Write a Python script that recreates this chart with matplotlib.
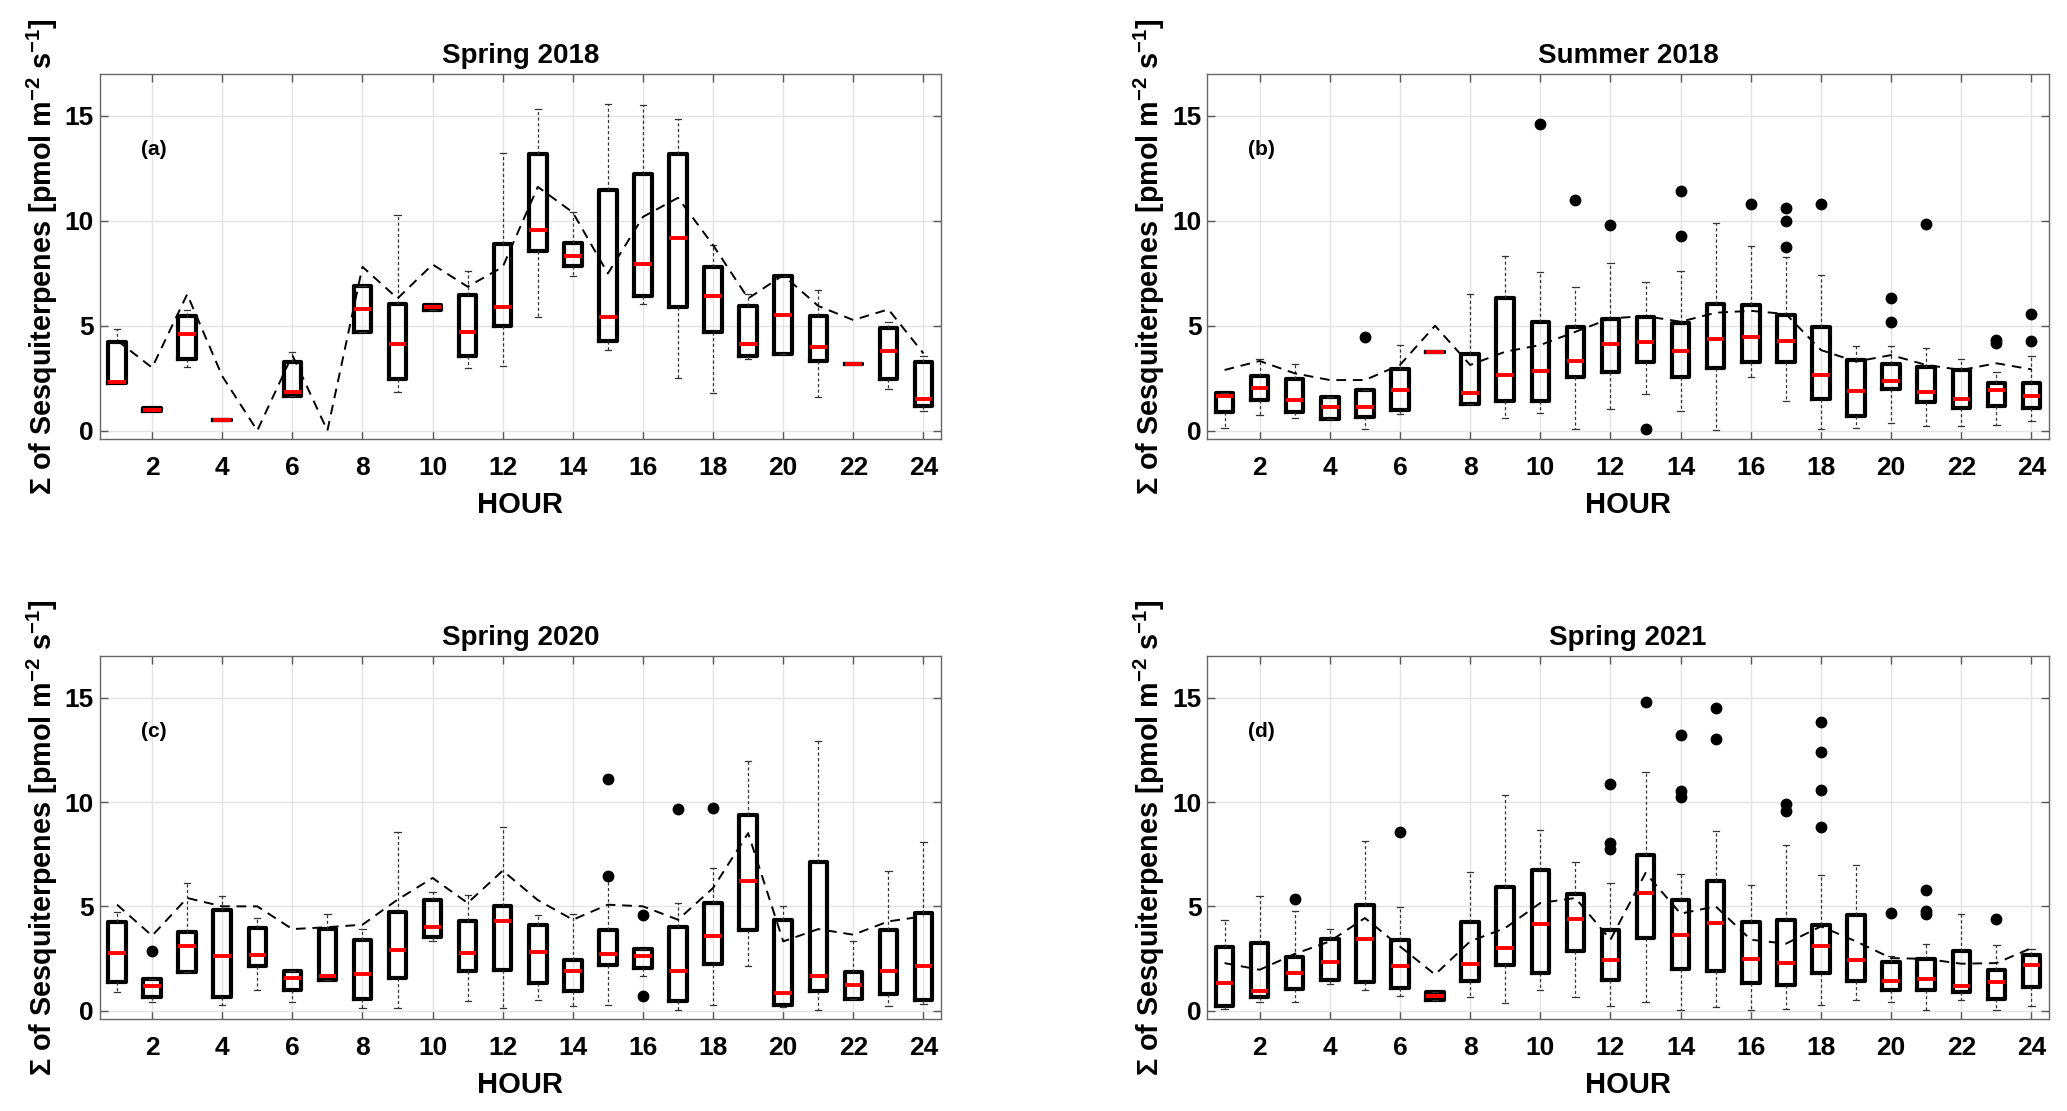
import numpy as np
import matplotlib
matplotlib.use("Agg")
import matplotlib.pyplot as plt

plt.rcParams['font.family'] = ['Liberation Sans', 'DejaVu Sans']
plt.rcParams['font.weight'] = 'bold'
plt.rcParams['mathtext.fontset'] = 'custom'
plt.rcParams['mathtext.rm'] = 'Liberation Sans:bold'
plt.rcParams['mathtext.bf'] = 'Liberation Sans:bold'
plt.rcParams['mathtext.default'] = 'bf'

nan = np.nan
hours = np.arange(1, 25)

# ---- Spring 2018 ----
med_a = [2.33, 0.98, 4.59, 0.51, nan, 1.86, nan, 5.79, 4.14, 5.87, 4.70, 5.89, 9.54, 8.32, 5.40, 7.94, 9.19, 6.44, 4.13, 5.49, 3.97, 3.16, 3.78, 1.49]
q1_a = [2.29, 0.93, 3.40, 0.51, nan, 1.65, nan, 4.68, 2.44, 5.75, 3.56, 4.98, 8.56, 7.84, 4.27, 6.44, 5.87, 4.71, 3.57, 3.63, 3.32, 3.16, 2.44, 1.19]
q3_a = [4.21, 1.06, 5.46, 0.51, nan, 3.29, nan, 6.89, 6.05, 5.97, 6.46, 8.89, 13.2, 8.92, 11.49, 12.24, 13.2, 7.81, 5.94, 7.37, 5.48, 3.16, 4.90, 3.29]
lo_a = [2.29, 0.93, 3.05, 0.51, nan, 1.65, nan, 4.68, 1.83, 5.75, 2.97, 3.08, 5.43, 7.37, 3.83, 6.02, 2.52, 1.78, 3.41, 3.63, 1.59, 3.16, 1.97, 0.95]
hi_a = [4.83, 1.06, 5.75, 0.51, nan, 3.76, nan, 6.89, 10.3, 5.97, 7.62, 13.25, 15.33, 10.4, 15.56, 15.52, 14.86, 8.87, 6.51, 7.37, 6.70, 3.16, 5.19, 3.56]
mean_a = [4.3, 3.0, 6.5, 2.6, 0.0, 3.6, 0.0, 7.81, 6.3, 7.92, 6.86, 7.8, 11.62, 10.4, 7.49, 10.19, 11.1, 8.84, 6.3, 7.41, 5.94, 5.27, 5.78, 3.68]
fl_a = {}

# ---- Summer 2018 ----
med_b = [1.67, 2.03, 1.44, 1.11, 1.11, 1.92, 3.73, 1.78, 2.67, 2.83, 3.33, 4.11, 4.22, 3.79, 4.35, 4.44, 4.25, 2.65, 1.90, 2.37, 1.83, 1.49, 1.94, 1.65]
q1_b = [0.90, 1.46, 0.90, 0.57, 0.67, 0.98, 3.73, 1.27, 1.43, 1.43, 2.57, 2.81, 3.29, 2.56, 3.0, 3.29, 3.29, 1.49, 0.70, 1.98, 1.37, 1.10, 1.19, 1.10]
q3_b = [1.78, 2.60, 2.46, 1.62, 1.94, 2.92, 3.73, 3.65, 6.32, 5.19, 4.95, 5.32, 5.40, 5.11, 6.02, 5.98, 5.51, 4.95, 3.37, 3.17, 3.02, 2.89, 2.29, 2.25]
lo_b = [0.13, 0.73, 0.59, 0.57, 0.06, 0.78, 3.73, 1.27, 0.62, 0.86, 0.10, 1.05, 1.75, 0.94, 0.02, 2.57, 1.41, 0.08, 0.11, 0.35, 0.21, 0.24, 0.27, 0.46]
hi_b = [1.78, 3.41, 3.17, 1.62, 1.94, 4.06, 3.73, 6.52, 8.32, 7.56, 6.84, 7.98, 7.08, 7.60, 9.90, 8.79, 8.30, 7.44, 4.05, 4.05, 3.95, 3.40, 2.81, 3.56]
mean_b = [2.89, 3.32, 2.73, 2.41, 2.41, 3.13, 5.0, 3.13, 3.76, 4.08, 4.71, 5.35, 5.46, 5.19, 5.62, 5.71, 5.56, 3.84, 3.29, 3.60, 3.13, 2.89, 3.21, 2.92]
fl_b = {5: [4.48], 10: [14.63], 11: [10.97], 12: [9.79], 13: [0.10], 14: [11.43, 9.29],
        16: [10.78], 17: [10.63, 9.97, 8.75], 18: [10.78], 20: [6.32, 5.16], 21: [9.84],
        23: [4.32, 4.16], 24: [5.56, 4.29]}

# ---- Spring 2020 ----
med_c = [2.75, 1.18, 3.08, 2.60, 2.68, 1.55, 1.66, 1.76, 2.91, 4.03, 2.78, 4.31, 2.83, 1.90, 2.72, 2.60, 1.90, 3.58, 6.23, 0.85, 1.65, 1.25, 1.92, 2.12]
q1_c = [1.36, 0.65, 1.84, 0.64, 2.12, 1.01, 1.49, 0.56, 1.57, 3.51, 1.88, 1.96, 1.33, 0.93, 2.19, 2.04, 0.48, 2.24, 3.88, 0.29, 0.96, 0.56, 0.80, 0.53]
q3_c = [4.25, 1.53, 3.77, 4.84, 3.96, 1.92, 3.91, 3.37, 4.74, 5.29, 4.31, 5.03, 4.12, 2.41, 3.88, 2.96, 4.01, 5.16, 9.38, 4.33, 7.11, 1.85, 3.88, 4.68]
lo_c = [0.89, 0.42, 1.84, 0.27, 1.01, 0.43, 1.49, 0.14, 0.13, 3.35, 0.46, 0.11, 0.53, 0.24, 0.26, 1.65, 0.03, 0.26, 2.12, 0.16, 0.05, 0.56, 0.21, 0.32]
hi_c = [4.73, 1.53, 6.12, 5.51, 4.42, 1.92, 4.63, 3.93, 8.56, 5.67, 5.56, 8.82, 4.58, 4.63, 6.28, 2.96, 5.16, 6.82, 11.95, 5.03, 12.94, 3.35, 6.71, 8.07]
mean_c = [5.08, 3.59, 5.40, 5.0, 5.0, 3.91, 4.0, 4.12, 5.32, 6.36, 5.16, 6.71, 5.3, 4.36, 5.08, 5.0, 4.36, 5.88, 8.51, 3.32, 3.91, 3.64, 4.28, 4.52]
fl_c = {2: [2.88], 15: [11.10, 6.47], 16: [4.58, 0.72], 17: [9.66], 18: [9.71]}

# ---- Spring 2021 ----
med_d = [1.33, 0.93, 1.81, 2.32, 3.43, 2.16, 0.72, 2.22, 3.0, 4.15, 4.39, 2.44, 5.64, 3.64, 4.20, 2.48, 2.28, 3.08, 2.41, 1.42, 1.53, 1.18, 1.37, 2.17]
q1_d = [0.21, 0.65, 1.05, 1.49, 1.36, 1.09, 0.50, 1.42, 2.17, 1.81, 2.88, 1.49, 3.48, 2.01, 1.92, 1.33, 1.25, 1.81, 1.41, 0.97, 1.01, 0.89, 0.58, 1.12]
q3_d = [3.04, 3.24, 2.57, 3.43, 5.08, 3.40, 0.88, 4.23, 5.91, 6.76, 5.59, 3.88, 7.48, 5.29, 6.23, 4.23, 4.33, 4.09, 4.58, 2.32, 2.48, 2.88, 1.93, 2.68]
lo_d = [0.10, 0.40, 0.40, 1.28, 0.97, 0.69, 0.50, 0.64, 0.37, 0.97, 0.65, 0.21, 0.42, 0.03, 0.16, 0.05, 0.08, 0.26, 0.51, 0.40, 0.02, 0.51, 0.02, 0.24]
hi_d = [4.33, 5.51, 4.79, 3.91, 8.13, 4.97, 0.88, 6.65, 10.34, 8.66, 7.12, 6.12, 11.42, 6.57, 8.63, 6.04, 7.92, 6.52, 6.98, 2.60, 3.21, 4.65, 3.15, 2.95]
mean_d = [2.28, 1.96, 2.72, 3.32, 4.44, 3.08, 1.73, 3.32, 3.96, 5.16, 5.40, 3.40, 6.60, 4.65, 5.0, 3.40, 3.21, 4.04, 3.32, 2.52, 2.48, 2.25, 2.28, 3.0]
fl_d = {3: [5.35], 6: [8.55], 12: [10.86, 8.04, 7.76], 13: [14.79], 14: [13.23, 10.51, 10.22],
        15: [14.49, 13.04], 17: [9.92, 9.55], 18: [13.82, 12.41, 10.56, 8.79], 20: [4.68],
        21: [5.80, 4.76, 4.65], 23: [4.39]}

titles = ['Spring 2018', 'Summer 2018', 'Spring 2020', 'Spring 2021']
tags = ['(a)', '(b)', '(c)', '(d)']
ylab = r'$\Sigma$ of Sesquiterpenes [pmol m$^{-2}$ s$^{-1}$]'

W, H = 2067, 1111
fig = plt.figure(figsize=(W / 100, H / 100), dpi=100)
# axes boxes in pixels: left, top, right, bottom
boxes = [(99.5, 74, 941, 439), (1207, 74, 2049, 439),
         (99.5, 656, 941, 1019), (1207, 656, 2049, 1019)]

panels = [(med_a, q1_a, q3_a, lo_a, hi_a, mean_a, fl_a),
          (med_b, q1_b, q3_b, lo_b, hi_b, mean_b, fl_b),
          (med_c, q1_c, q3_c, lo_c, hi_c, mean_c, fl_c),
          (med_d, q1_d, q3_d, lo_d, hi_d, mean_d, fl_d)]

for i, (med, q1, q3, lo, hi, mn, fl) in enumerate(panels):
    l, t, r, b = boxes[i]
    ax = fig.add_axes([l / W, 1 - b / H, (r - l) / W, (b - t) / H])
    stats, pos = [], []
    for k, h in enumerate(hours):
        if np.isnan(med[k]):
            continue
        stats.append(dict(med=med[k], q1=q1[k], q3=q3[k], whislo=lo[k], whishi=hi[k],
                          fliers=fl.get(h, [])))
        pos.append(h)
    ax.bxp(stats, positions=pos, widths=0.5, capwidths=0.18, manage_ticks=False,
           boxprops=dict(color='black', linewidth=3.0),
           medianprops=dict(color='red', linewidth=2.8, solid_capstyle='butt'),
           whiskerprops=dict(color='0.2', linewidth=0.9, linestyle=(0, (2.5, 2))),
           capprops=dict(color='0.2', linewidth=0.9),
           flierprops=dict(marker='o', markerfacecolor='black', markeredgecolor='black',
                           markersize=7.5, linestyle='none'))
    ax.plot(hours, mn, color='black', linewidth=1.4, linestyle=(0, (5, 3.5)))

    ax.set_xlim(0.5, 24.5)
    ax.set_ylim(-0.4, 17)
    ax.set_xticks(np.arange(2, 25, 2))
    ax.set_yticks([0, 5, 10, 15])
    ax.grid(True, color='#e3e3e3', linewidth=1.0)
    ax.set_axisbelow(True)
    ax.tick_params(direction='in', length=6, width=1, color='0.35', top=True, right=True,
                   labelsize=19)
    ax.tick_params(axis='x', pad=12)
    ax.tick_params(axis='y', pad=4)
    for s in ax.spines.values():
        s.set_color('0.4')
        s.set_linewidth(1.0)
    ax.set_title(titles[i], fontsize=20, fontweight='bold', pad=8)
    ax.set_xlabel('HOUR', fontsize=21, fontweight='bold', labelpad=8)
    ax.set_ylabel(ylab, fontsize=20.7, fontweight='bold')
    ax.yaxis.label.set_va('center')
    ax.yaxis.set_label_coords(-0.068, 0.5)
    ax.text(2.05, 13.4, tags[i], fontsize=15, fontweight='bold',
            ha='center', va='center')

fig.savefig('out.png', dpi=100)
